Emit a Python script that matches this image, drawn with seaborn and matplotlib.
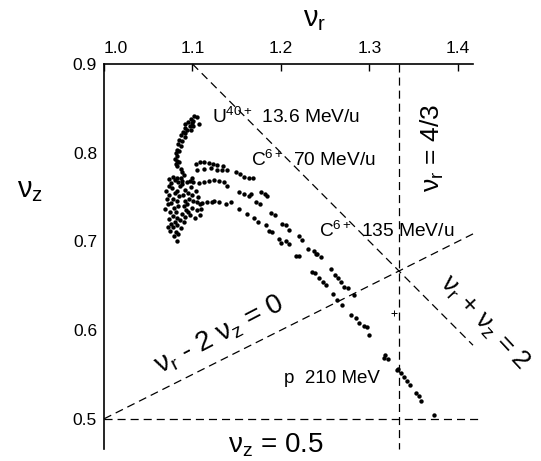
import numpy as np
import pandas as pd
import matplotlib
matplotlib.use("Agg")
import matplotlib.pyplot as plt
import seaborn as sns

# Working points (nu_r, nu_z)
u_nur = [1.102, 1.105, 1.098, 1.101, 1.107, 1.095, 1.099, 1.092, 1.097, 1.101,
         1.091, 1.094, 1.098, 1.089, 1.092, 1.087, 1.091, 1.085, 1.088, 1.084,
         1.087, 1.082, 1.085, 1.081, 1.083, 1.080, 1.082, 1.085, 1.081, 1.083,
         1.087, 1.088,
         1.069, 1.072, 1.071, 1.074, 1.070, 1.073, 1.076, 1.074, 1.078, 1.080,
         1.077, 1.080, 1.078, 1.076, 1.079, 1.075, 1.078, 1.073, 1.076, 1.072,
         1.075, 1.078, 1.080, 1.083, 1.081, 1.084, 1.082, 1.085, 1.083, 1.086,
         1.084, 1.087, 1.090, 1.088, 1.091, 1.089, 1.092, 1.090, 1.093, 1.088,
         1.086, 1.083, 1.081, 1.079, 1.082, 1.084, 1.087, 1.090, 1.092, 1.095,
         1.094, 1.096, 1.095, 1.098, 1.097, 1.100, 1.099, 1.101, 1.100, 1.097,
         1.105, 1.103, 1.108, 1.106, 1.104, 1.110]
u_nuz = [0.841, 0.840, 0.838, 0.836, 0.832, 0.835, 0.834, 0.832, 0.830, 0.830,
         0.828, 0.826, 0.826, 0.823, 0.822, 0.820, 0.818, 0.814, 0.813, 0.810,
         0.807, 0.803, 0.802, 0.800, 0.796, 0.793, 0.791, 0.789, 0.787, 0.785,
         0.782, 0.778,
         0.737, 0.742, 0.748, 0.752, 0.757, 0.762, 0.766, 0.770, 0.773, 0.769,
         0.760, 0.755, 0.748, 0.743, 0.738, 0.733, 0.729, 0.725, 0.720, 0.716,
         0.712, 0.716, 0.722, 0.726, 0.733, 0.740, 0.746, 0.751, 0.757, 0.762,
         0.767, 0.771, 0.775, 0.765, 0.758, 0.752, 0.746, 0.740, 0.735, 0.731,
         0.724, 0.718, 0.711, 0.706, 0.701, 0.708, 0.715, 0.722, 0.728, 0.733,
         0.742, 0.748, 0.755, 0.761, 0.768, 0.772, 0.752, 0.745, 0.738, 0.730,
         0.735, 0.726, 0.742, 0.750, 0.757, 0.736]

c70_nur = [1.104, 1.108, 1.113, 1.119, 1.123, 1.128, 1.134, 1.139, 1.149, 1.154,
           1.158, 1.164, 1.168, 1.105, 1.113, 1.121, 1.128, 1.133,
           1.177, 1.182, 1.184, 1.189, 1.193, 1.201, 1.206, 1.209, 1.220, 1.224,
           1.245, 1.241, 1.256, 1.261, 1.265, 1.268, 1.271, 1.276, 1.282]
c70_nuz = [0.787, 0.789, 0.789, 0.788, 0.787, 0.786, 0.785, 0.781, 0.778, 0.776,
           0.773, 0.772, 0.771, 0.781, 0.782, 0.783, 0.780, 0.780,
           0.756, 0.753, 0.751, 0.732, 0.730, 0.720, 0.719, 0.713, 0.706, 0.702,
           0.682, 0.686, 0.669, 0.662, 0.659, 0.654, 0.649, 0.647, 0.640]

c135_nur = [1.083, 1.088, 1.094, 1.101, 1.107, 1.113, 1.119, 1.124, 1.130, 1.136,
            1.139, 1.153, 1.158, 1.164, 1.166, 1.172, 1.176, 1.183, 1.186, 1.190,
            1.198, 1.200, 1.206, 1.209, 1.230, 1.237, 1.240, 1.217, 1.220, 1.235,
            1.238, 1.243, 1.247, 1.251, 1.259, 1.263, 1.269]
c135_nuz = [0.771, 0.768, 0.767, 0.767, 0.766, 0.767, 0.768, 0.769, 0.768, 0.767,
            0.763, 0.756, 0.753, 0.751, 0.753, 0.744, 0.742, 0.718, 0.712, 0.711,
            0.703, 0.698, 0.700, 0.697, 0.691, 0.689, 0.686, 0.683, 0.684, 0.666,
            0.664, 0.659, 0.654, 0.651, 0.641, 0.634, 0.628]

p_nur = [1.105, 1.111, 1.116, 1.124, 1.130, 1.138, 1.144, 1.153, 1.162, 1.169,
         1.174, 1.109, 1.122,
         1.279, 1.285, 1.288, 1.294, 1.297, 1.299, 1.316, 1.318, 1.321, 1.331,
         1.332, 1.336, 1.339, 1.342, 1.346, 1.353, 1.356, 1.358, 1.373]
p_nuz = [0.744, 0.743, 0.744, 0.746, 0.744, 0.742, 0.744, 0.737, 0.731, 0.726,
         0.722, 0.730, 0.744,
         0.617, 0.614, 0.608, 0.605, 0.604, 0.595, 0.569, 0.572, 0.567, 0.555,
         0.556, 0.552, 0.547, 0.543, 0.538, 0.529, 0.526, 0.520, 0.504]

# a stray mark near the 4/3 line
plus_nur = [1.328]
plus_nuz = [0.619]

# resonance lines
third_nur = 4 / 3
half_nuz = 0.5
line_nur = [1.0, 1.417]
sum_nur = [1.1, 1.417]

x_ticks = [1.0, 1.1, 1.2, 1.3, 1.4]
y_ticks = [0.5, 0.6, 0.7, 0.8, 0.9]

sns.set_theme(style="white")
plt.rcParams["font.family"] = ["Liberation Sans", "DejaVu Sans"]
plt.rcParams["text.color"] = "black"
plt.rcParams["mathtext.fontset"] = "custom"
plt.rcParams["mathtext.rm"] = "Liberation Sans"
plt.rcParams["mathtext.it"] = "Liberation Sans:italic"
plt.rcParams["mathtext.default"] = "regular"
plt.rcParams["lines.scale_dashes"] = False

df = pd.concat([
    pd.DataFrame({"nur": u_nur, "nuz": u_nuz, "beam": "U40+ 13.6"}),
    pd.DataFrame({"nur": c70_nur, "nuz": c70_nuz, "beam": "C6+ 70"}),
    pd.DataFrame({"nur": c135_nur, "nuz": c135_nuz, "beam": "C6+ 135"}),
    pd.DataFrame({"nur": p_nur, "nuz": p_nuz, "beam": "p 210"}),
], ignore_index=True)

fig = plt.figure(figsize=(5.41, 4.61), dpi=100)
ax = fig.add_axes([104 / 541, 1 - 449 / 461, 369 / 541, 385 / 461])

sns.scatterplot(data=df, x="nur", y="nuz", color="black", s=10, linewidth=0,
                legend=False, ax=ax, zorder=3)
ax.plot(plus_nur, plus_nuz, marker="+", color="black", ms=4, mew=0.7, ls="none")

dash = (0, (5.8, 3.6))
kw = dict(color="black", lw=0.9, linestyle=dash, clip_on=False)
ax.plot([third_nur, third_nur], [0.9, 0.466], **kw)
ax.plot([1.0, 1.425], [half_nuz, half_nuz], **kw)
ax.plot(line_nur, [v / 2 for v in line_nur], **kw)
ax.plot(sum_nur, [2 - v for v in sum_nur], **kw)

ax.set_xlim(1.0, 1.417)
ax.set_ylim(0.466, 0.9)
ax.xaxis.tick_top()
ax.set_xticks(x_ticks)
ax.set_yticks(y_ticks)
ax.set_xticklabels([f"{v:.1f}" for v in x_ticks])
ax.set_yticklabels([f"{v:.1f}" for v in y_ticks])
ax.get_xticklabels()[0].set_horizontalalignment("left")
ax.tick_params(axis="both", direction="in", length=5, width=1.0,
               labelsize=12.5, color="black", labelcolor="black")
ax.tick_params(axis="x", pad=6)
ax.tick_params(axis="y", pad=5)
ax.set_xlabel("")
ax.set_ylabel("")
for side in ["bottom", "right"]:
    ax.spines[side].set_visible(False)
for side in ["top", "left"]:
    ax.spines[side].set_color("black")
    ax.spines[side].set_linewidth(1.2)

ax.text(0.572, 1.117, r"$\nu_r$", transform=ax.transAxes, fontsize=21,
        ha="center", va="center")
ax.text(-0.20, 0.673, r"$\nu_z$", transform=ax.transAxes, fontsize=21,
        ha="center", va="center")

ax.text(1.122, 0.840, r"U$^{40+}\,$ 13.6 MeV/u", fontsize=13.8, va="center")
ax.text(1.166, 0.792, r"C$^{6+}\,$ 70 MeV/u", fontsize=13.8, va="center")
ax.text(1.243, 0.712, r"C$^{6+}\,$ 135 MeV/u", fontsize=13.8, va="center")
ax.text(1.203, 0.546, "p  210 MeV", fontsize=13.5, va="center")

ax.text(1.371, 0.805, r"$\nu_r$ = 4/3", rotation=90, fontsize=19,
        ha="center", va="center", clip_on=False)
ax.text(1.43, 0.609, r"$\nu_r$ + $\nu_z$ = 2", rotation=-47, fontsize=19,
        ha="center", va="center", clip_on=False)
ax.text(1.131, 0.594, r"$\nu_r$ - 2 $\nu_z$ = 0", rotation=27.5, fontsize=20,
        ha="center", va="center", clip_on=False)
ax.text(1.194, 0.470, r"$\nu_z$ = 0.5", fontsize=20, ha="center", va="center",
        clip_on=False)

fig.savefig("out.png", dpi=100)
